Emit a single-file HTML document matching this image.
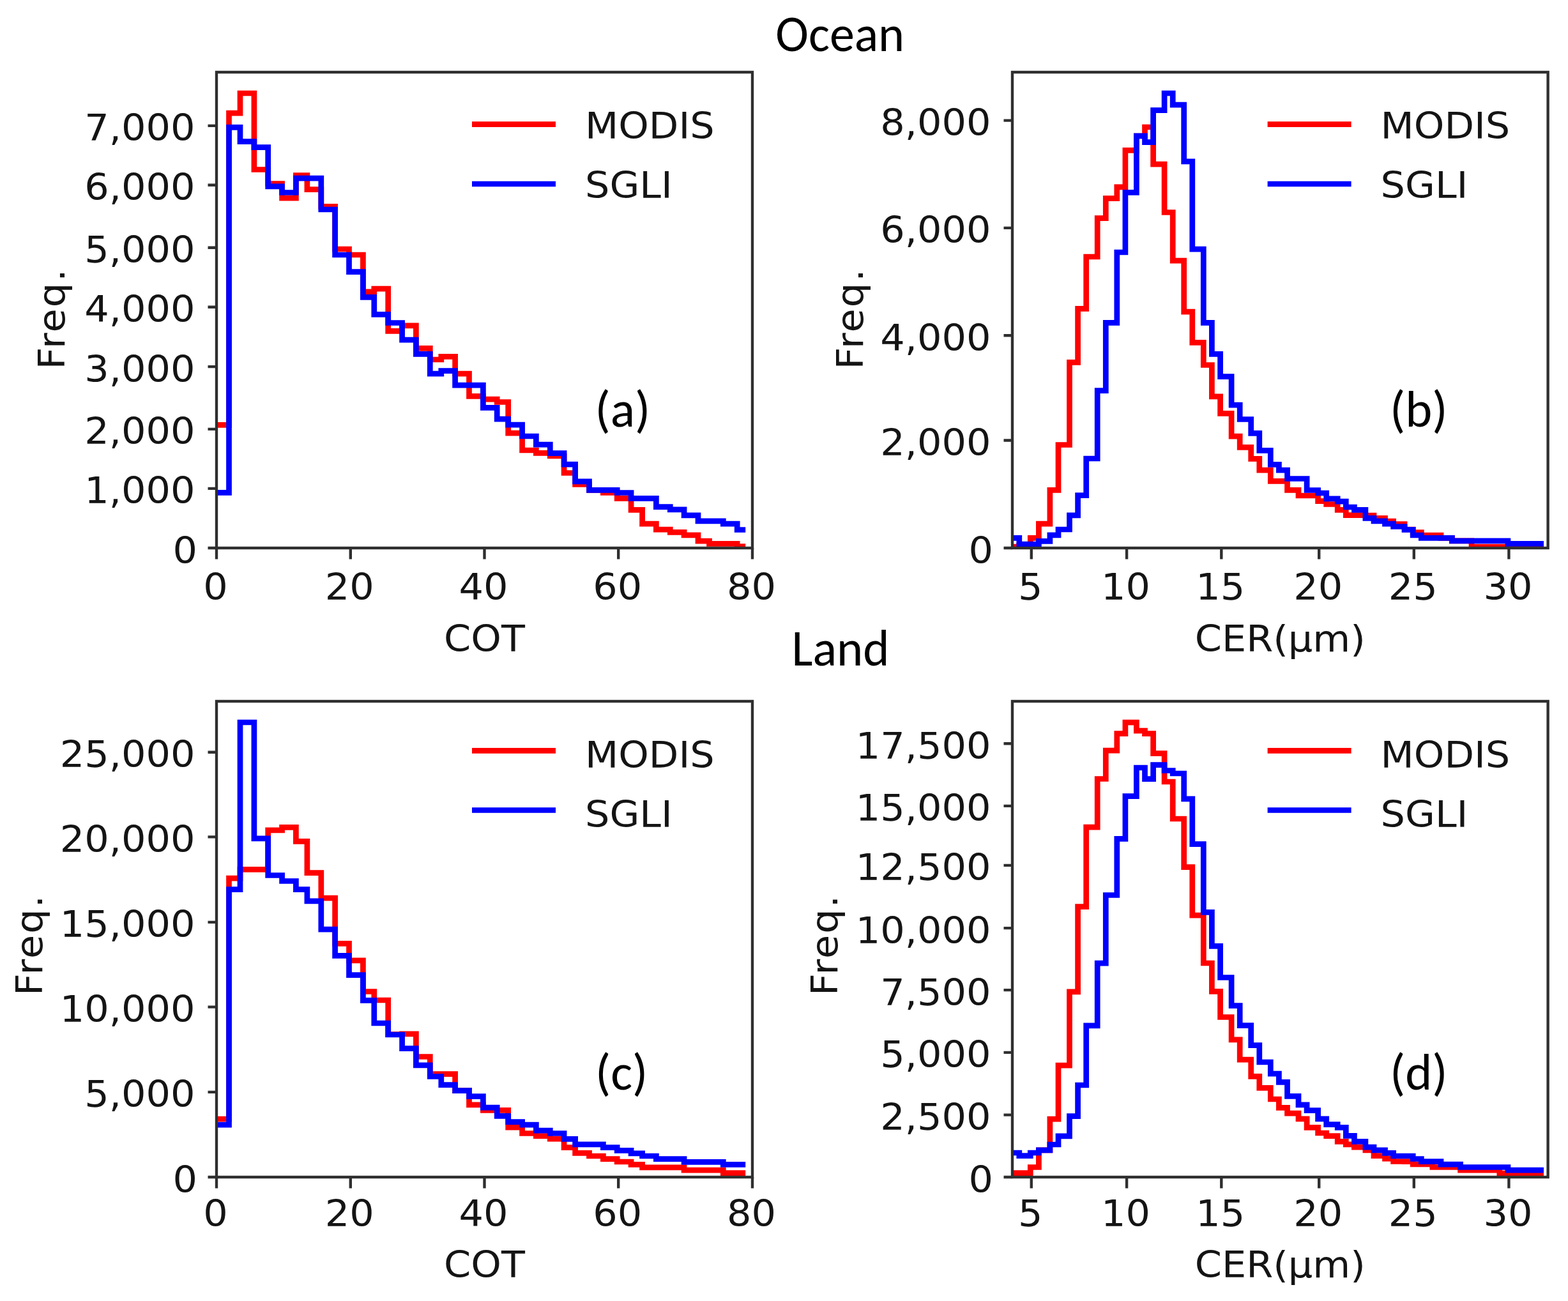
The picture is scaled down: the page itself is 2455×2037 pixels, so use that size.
<!DOCTYPE html>
<html><head><meta charset="utf-8"><title>Ocean / Land COT and CER histograms</title>
<style>html,body{margin:0;padding:0;background:#fff;}svg{display:block;}</style></head>
<body>
<svg width="2455" height="2037" viewBox="0 0 2455 2037">
<rect width="2455" height="2037" fill="#fff"/>
<clipPath id="ca"><rect x="339.0" y="113.0" width="839.0" height="745.0"/></clipPath>
<g clip-path="url(#ca)" fill="none" stroke-width="8.74" stroke-linejoin="miter" stroke-linecap="butt">
<path stroke="#ff0000" d="M339.0,665.3H358.5V177.2H376.0V146.0H397.9V265.5H419.7V287.7H441.6V310.1H463.4V274.6H480.9V296.7H502.8V323.4H524.6V390.0H546.5V399.0H568.4V456.8H585.8V452.1H607.7V518.4H629.6V509.8H651.4V545.3H673.3V563.0H690.8V558.4H712.6V585.2H734.5V620.4H756.4V625.2H778.2V629.5H795.7V678.1H817.6V705.0H839.4V709.3H861.3V714.0H883.1V740.5H900.6V758.3H922.5V767.3H944.4V771.4H966.2V780.3H988.1V798.4H1005.6V820.1H1027.4V829.1H1049.3V833.3H1071.1V837.9H1093.0V847.2H1110.5V851.4H1132.3V851.4H1154.2V855.6H1167.2"/>
<path stroke="#0000ff" d="M339.0,771.4H358.5V199.4H376.0V221.6H397.9V230.7H419.7V291.9H441.6V301.5H463.4V279.1H480.9V279.1H502.8V328.0H524.6V399.0H546.5V425.6H568.4V465.4H585.8V492.4H607.7V505.5H629.6V532.2H651.4V554.4H673.3V585.2H690.8V580.7H712.6V603.1H734.5V603.1H756.4V638.4H778.2V656.1H795.7V665.2H817.6V683.0H839.4V696.2H861.3V709.6H883.1V727.2H900.6V753.9H922.5V767.3H944.4V767.3H966.2V771.5H988.1V780.3H1005.6V780.3H1027.4V793.6H1049.3V797.8H1071.1V806.8H1093.0V815.9H1110.5V815.9H1132.3V820.1H1154.2V829.5H1167.2"/>
</g>
<rect x="339.0" y="113.0" width="839.0" height="745.0" fill="none" stroke="#2f2f2f" stroke-width="4.4"/>
<path d="M339.0,858.0v17.5M548.8,858.0v17.5M758.5,858.0v17.5M968.2,858.0v17.5M1178.0,858.0v17.5M339.0,858.0h-13.5M339.0,764.9h-13.5M339.0,671.9h-13.5M339.0,574.1h-13.5M339.0,480.7h-13.5M339.0,387.7h-13.5M339.0,289.7h-13.5M339.0,196.9h-13.5" stroke="#2f2f2f" stroke-width="4.4" fill="none"/>
<g font-family="'DejaVu Sans', 'Liberation Sans', sans-serif" font-size="60.5" fill="#141414">
<text transform="translate(337.5,938.5) scale(1,0.95)" text-anchor="middle">0</text>
<text transform="translate(547.2,938.5) scale(1,0.95)" text-anchor="middle">20</text>
<text transform="translate(757.0,938.5) scale(1,0.95)" text-anchor="middle">40</text>
<text transform="translate(966.8,938.5) scale(1,0.95)" text-anchor="middle">60</text>
<text transform="translate(1176.5,938.5) scale(1,0.95)" text-anchor="middle">80</text>
<text transform="translate(309.0,881.5) scale(1,0.95)" text-anchor="end">0</text>
<text transform="translate(305.5,788.4) scale(1,0.95)" text-anchor="end">1,000</text>
<text transform="translate(305.5,695.4) scale(1,0.95)" text-anchor="end">2,000</text>
<text transform="translate(305.5,597.6) scale(1,0.95)" text-anchor="end">3,000</text>
<text transform="translate(305.5,504.2) scale(1,0.95)" text-anchor="end">4,000</text>
<text transform="translate(305.5,411.2) scale(1,0.95)" text-anchor="end">5,000</text>
<text transform="translate(305.5,313.2) scale(1,0.95)" text-anchor="end">6,000</text>
<text transform="translate(305.5,220.4) scale(1,0.95)" text-anchor="end">7,000</text>
<text transform="translate(758.5,1019.5) scale(1,0.95)" text-anchor="middle">COT</text>
<text transform="translate(100.9,499.0) rotate(-90) scale(1,0.95)" text-anchor="middle" letter-spacing="2">Freq.</text>
</g>
<path d="M739.0,194.7H870.0" stroke="#ff0000" stroke-width="8.74"/>
<path d="M739.0,288.0H870.0" stroke="#0000ff" stroke-width="8.74"/>
<g font-family="'DejaVu Sans', 'Liberation Sans', sans-serif" font-size="60.5" fill="#141414">
<text transform="translate(916.0,216.6) scale(1,0.95)" text-anchor="start">MODIS</text>
<text transform="translate(916.0,310.0) scale(1,0.95)" text-anchor="start">SGLI</text>
</g>
<text x="931.5" y="667.8" font-family="Carlito, 'Liberation Sans', sans-serif" font-size="80" style="font-size-adjust:0.4775" textLength="86.84" lengthAdjust="spacingAndGlyphs">(a)</text>
<clipPath id="cb"><rect x="1585.0" y="113.0" width="838.5999999999999" height="745.0"/></clipPath>
<g clip-path="url(#cb)" fill="none" stroke-width="8.74" stroke-linejoin="miter" stroke-linecap="butt">
<path stroke="#ff0000" d="M1585.0,856.0H1595.8V854.0H1613.3V842.4H1626.4V820.1H1643.9V767.3H1657.0V696.5H1674.5V567.4H1687.6V483.3H1700.7V402.0H1718.2V341.6H1731.3V310.6H1748.8V292.8H1761.9V235.4H1779.4V213.0H1792.5V199.0H1805.6V257.1H1823.1V332.5H1836.2V408.1H1853.7V488.1H1866.8V536.4H1884.3V571.5H1897.4V620.9H1910.6V647.4H1928.1V683.2H1941.2V700.4H1958.7V718.4H1971.8V736.2H1989.3V753.4H2002.4V753.4H2015.5V767.3H2033.0V776.0H2046.1V776.0H2063.6V784.6H2076.7V789.5H2094.2V798.3H2107.3V806.7H2120.4V806.7H2137.9V807.0H2151.0V811.4H2168.5V816.0H2181.6V820.7H2199.1V829.0H2212.2V833.5H2225.3V838.0H2242.8V838.0H2256.0V842.3H2273.4V846.8H2286.6V846.8H2304.0V856.0H2317.2V856.0H2334.6V856.0H2347.8V856.0H2360.9V856.0H2378.4V856.0H2391.5V856.0H2409.0V856.0H2417.0"/>
<path stroke="#0000ff" d="M1585.0,842.4H1595.8V852.2H1613.3V852.2H1626.4V847.4H1643.9V837.9H1657.0V829.0H1674.5V806.8H1687.6V775.7H1700.7V718.0H1718.2V611.6H1731.3V505.4H1748.8V395.0H1761.9V301.3H1779.4V212.9H1792.5V222.6H1805.6V172.6H1823.1V146.0H1836.2V164.1H1853.7V252.8H1866.8V390.2H1884.3V505.4H1897.4V554.3H1910.6V589.6H1928.1V634.1H1941.2V656.5H1958.7V678.4H1971.8V705.3H1989.3V727.3H2002.4V736.2H2015.5V749.5H2033.0V749.5H2046.1V767.5H2063.6V772.0H2076.7V780.9H2094.2V785.2H2107.3V794.0H2120.4V798.3H2137.9V811.4H2151.0V815.8H2168.5V820.1H2181.6V824.5H2199.1V829.3H2212.2V838.0H2225.3V842.3H2242.8V842.3H2256.0V842.3H2273.4V846.8H2286.6V846.8H2304.0V846.8H2317.2V846.8H2334.6V846.8H2347.8V846.8H2360.9V851.4H2378.4V851.4H2391.5V851.4H2409.0V851.4H2417.0"/>
</g>
<rect x="1585.0" y="113.0" width="838.5999999999999" height="745.0" fill="none" stroke="#2f2f2f" stroke-width="4.4"/>
<path d="M1614.8,858.0v17.5M1764.1,858.0v17.5M1912.3,858.0v17.5M2065.2,858.0v17.5M2213.8,858.0v17.5M2362.4,858.0v17.5M1585.0,858.0h-13.5M1585.0,689.5h-13.5M1585.0,525.3h-13.5M1585.0,356.9h-13.5M1585.0,188.6h-13.5" stroke="#2f2f2f" stroke-width="4.4" fill="none"/>
<g font-family="'DejaVu Sans', 'Liberation Sans', sans-serif" font-size="60.5" fill="#141414">
<text transform="translate(1613.3,938.5) scale(1,0.95)" text-anchor="middle">5</text>
<text transform="translate(1762.6,938.5) scale(1,0.95)" text-anchor="middle">10</text>
<text transform="translate(1910.8,938.5) scale(1,0.95)" text-anchor="middle">15</text>
<text transform="translate(2063.7,938.5) scale(1,0.95)" text-anchor="middle">20</text>
<text transform="translate(2212.3,938.5) scale(1,0.95)" text-anchor="middle">25</text>
<text transform="translate(2360.9,938.5) scale(1,0.95)" text-anchor="middle">30</text>
<text transform="translate(1555.0,881.5) scale(1,0.95)" text-anchor="end">0</text>
<text transform="translate(1551.5,713.0) scale(1,0.95)" text-anchor="end">2,000</text>
<text transform="translate(1551.5,548.8) scale(1,0.95)" text-anchor="end">4,000</text>
<text transform="translate(1551.5,380.4) scale(1,0.95)" text-anchor="end">6,000</text>
<text transform="translate(1551.5,212.1) scale(1,0.95)" text-anchor="end">8,000</text>
<text transform="translate(2004.3,1019.5) scale(1,0.95)" text-anchor="middle">CER(µm)</text>
<text transform="translate(1350.9,499.0) rotate(-90) scale(1,0.95)" text-anchor="middle" letter-spacing="2">Freq.</text>
</g>
<path d="M1984.6,194.7H2115.6" stroke="#ff0000" stroke-width="8.74"/>
<path d="M1984.6,288.0H2115.6" stroke="#0000ff" stroke-width="8.74"/>
<g font-family="'DejaVu Sans', 'Liberation Sans', sans-serif" font-size="60.5" fill="#141414">
<text transform="translate(2161.6,216.6) scale(1,0.95)" text-anchor="start">MODIS</text>
<text transform="translate(2161.6,310.0) scale(1,0.95)" text-anchor="start">SGLI</text>
</g>
<text x="2176.0" y="667.6" font-family="Carlito, 'Liberation Sans', sans-serif" font-size="80" style="font-size-adjust:0.4775" textLength="90.55" lengthAdjust="spacingAndGlyphs">(b)</text>
<clipPath id="cc"><rect x="339.0" y="1098.0" width="839.0" height="745.0"/></clipPath>
<g clip-path="url(#cc)" fill="none" stroke-width="8.74" stroke-linejoin="miter" stroke-linecap="butt">
<path stroke="#ff0000" d="M339.0,1752.2H358.5V1375.2H376.0V1361.4H397.9V1361.4H419.7V1299.8H441.6V1295.3H463.4V1317.3H480.9V1366.6H502.8V1406.2H524.6V1477.4H546.5V1503.8H568.4V1552.5H585.8V1566.0H607.7V1619.6H629.6V1618.9H651.4V1654.5H673.3V1681.6H690.8V1681.6H712.6V1707.7H734.5V1729.8H756.4V1738.4H778.2V1738.4H795.7V1765.2H817.6V1774.5H839.4V1778.7H861.3V1783.2H883.1V1796.6H900.6V1805.3H922.5V1810.0H944.4V1814.7H966.2V1819.0H988.1V1823.4H1005.6V1827.9H1027.4V1827.9H1049.3V1827.9H1071.1V1832.2H1093.0V1832.2H1110.5V1832.2H1132.3V1836.7H1154.2V1836.7H1167.2"/>
<path stroke="#0000ff" d="M339.0,1761.2H358.5V1392.7H376.0V1131.0H397.9V1312.8H419.7V1370.5H441.6V1379.5H463.4V1392.7H480.9V1410.8H502.8V1455.1H524.6V1496.4H546.5V1526.7H568.4V1566.3H585.8V1602.0H607.7V1620.0H629.6V1641.6H651.4V1667.8H673.3V1685.5H690.8V1698.6H712.6V1707.7H734.5V1716.7H756.4V1734.2H778.2V1747.3H795.7V1756.6H817.6V1761.1H839.4V1770.1H861.3V1774.5H883.1V1783.3H900.6V1791.9H922.5V1791.9H944.4V1796.6H966.2V1801.4H988.1V1805.8H1005.6V1810.0H1027.4V1814.7H1049.3V1814.7H1071.1V1819.4H1093.0V1819.4H1110.5V1819.4H1132.3V1823.4H1154.2V1823.4H1167.2"/>
</g>
<rect x="339.0" y="1098.0" width="839.0" height="745.0" fill="none" stroke="#2f2f2f" stroke-width="4.4"/>
<path d="M339.0,1843.0v17.5M548.8,1843.0v17.5M758.5,1843.0v17.5M968.2,1843.0v17.5M1178.0,1843.0v17.5M339.0,1843.0h-13.5M339.0,1709.9h-13.5M339.0,1576.6h-13.5M339.0,1443.9h-13.5M339.0,1310.4h-13.5M339.0,1177.8h-13.5" stroke="#2f2f2f" stroke-width="4.4" fill="none"/>
<g font-family="'DejaVu Sans', 'Liberation Sans', sans-serif" font-size="60.5" fill="#141414">
<text transform="translate(337.5,1920.0) scale(1,0.95)" text-anchor="middle">0</text>
<text transform="translate(547.2,1920.0) scale(1,0.95)" text-anchor="middle">20</text>
<text transform="translate(757.0,1920.0) scale(1,0.95)" text-anchor="middle">40</text>
<text transform="translate(966.8,1920.0) scale(1,0.95)" text-anchor="middle">60</text>
<text transform="translate(1176.5,1920.0) scale(1,0.95)" text-anchor="middle">80</text>
<text transform="translate(309.0,1866.5) scale(1,0.95)" text-anchor="end">0</text>
<text transform="translate(305.5,1733.4) scale(1,0.95)" text-anchor="end">5,000</text>
<text transform="translate(305.5,1600.1) scale(1,0.95)" text-anchor="end">10,000</text>
<text transform="translate(305.5,1467.4) scale(1,0.95)" text-anchor="end">15,000</text>
<text transform="translate(305.5,1333.9) scale(1,0.95)" text-anchor="end">20,000</text>
<text transform="translate(305.5,1201.3) scale(1,0.95)" text-anchor="end">25,000</text>
<text transform="translate(758.5,1999.5) scale(1,0.95)" text-anchor="middle">COT</text>
<text transform="translate(65.8,1479.5) rotate(-90) scale(1,0.95)" text-anchor="middle" letter-spacing="2">Freq.</text>
</g>
<path d="M739.0,1175.3H870.0" stroke="#ff0000" stroke-width="8.74"/>
<path d="M739.0,1268.5H870.0" stroke="#0000ff" stroke-width="8.74"/>
<g font-family="'DejaVu Sans', 'Liberation Sans', sans-serif" font-size="60.5" fill="#141414">
<text transform="translate(916.0,1201.6) scale(1,0.95)" text-anchor="start">MODIS</text>
<text transform="translate(916.0,1295.0) scale(1,0.95)" text-anchor="start">SGLI</text>
</g>
<text x="932.0" y="1706.0" font-family="Carlito, 'Liberation Sans', sans-serif" font-size="80" style="font-size-adjust:0.4775" textLength="82.34" lengthAdjust="spacingAndGlyphs">(c)</text>
<clipPath id="cd"><rect x="1585.0" y="1098.0" width="838.5999999999999" height="745.0"/></clipPath>
<g clip-path="url(#cd)" fill="none" stroke-width="8.74" stroke-linejoin="miter" stroke-linecap="butt">
<path stroke="#ff0000" d="M1585.0,1836.6H1595.8V1836.6H1613.3V1827.5H1626.4V1800.8H1643.9V1752.1H1657.0V1668.2H1674.5V1552.9H1687.6V1419.7H1700.7V1295.1H1718.2V1219.5H1731.3V1175.2H1748.8V1148.6H1761.9V1131.1H1779.4V1144.2H1792.5V1148.6H1805.6V1179.7H1823.1V1224.0H1836.2V1282.0H1853.7V1357.6H1866.8V1433.2H1884.3V1508.0H1897.4V1552.4H1910.6V1592.5H1928.1V1627.9H1941.2V1659.1H1958.7V1685.4H1971.8V1703.3H1989.3V1721.0H2002.4V1734.3H2015.5V1743.2H2033.0V1751.9H2046.1V1765.4H2063.6V1774.0H2076.7V1778.6H2094.2V1787.3H2107.3V1791.9H2120.4V1796.2H2137.9V1800.8H2151.0V1809.6H2168.5V1814.1H2181.6V1818.5H2199.1V1818.6H2212.2V1823.0H2225.3V1823.0H2242.8V1827.5H2256.0V1827.5H2273.4V1827.5H2286.6V1832.2H2304.0V1832.2H2317.2V1832.2H2334.6V1832.2H2347.8V1837.0H2360.9V1837.0H2378.4V1837.0H2391.5V1837.0H2409.0V1837.0H2417.0"/>
<path stroke="#0000ff" d="M1585.0,1805.0H1595.8V1809.7H1613.3V1805.0H1626.4V1800.8H1643.9V1792.0H1657.0V1778.9H1674.5V1747.6H1687.6V1699.0H1700.7V1605.8H1718.2V1508.2H1731.3V1401.5H1748.8V1313.3H1761.9V1246.6H1779.4V1202.0H1792.5V1219.6H1805.6V1197.6H1823.1V1206.5H1836.2V1211.0H1853.7V1250.8H1866.8V1321.7H1884.3V1428.4H1897.4V1481.4H1910.6V1530.5H1928.1V1574.6H1941.2V1605.6H1958.7V1636.6H1971.8V1663.0H1989.3V1681.1H2002.4V1694.4H2015.5V1716.4H2033.0V1729.8H2046.1V1738.6H2063.6V1751.9H2076.7V1760.7H2094.2V1765.4H2107.3V1778.4H2120.4V1787.3H2137.9V1796.2H2151.0V1800.8H2168.5V1805.3H2181.6V1810.0H2199.1V1810.0H2212.2V1814.5H2225.3V1818.7H2242.8V1818.7H2256.0V1823.2H2273.4V1823.2H2286.6V1827.5H2304.0V1827.5H2317.2V1827.5H2334.6V1827.5H2347.8V1827.5H2360.9V1832.1H2378.4V1832.1H2391.5V1832.1H2409.0V1832.1H2417.0"/>
</g>
<rect x="1585.0" y="1098.0" width="838.5999999999999" height="745.0" fill="none" stroke="#2f2f2f" stroke-width="4.4"/>
<path d="M1614.8,1843.0v17.5M1764.1,1843.0v17.5M1912.3,1843.0v17.5M2065.2,1843.0v17.5M2213.8,1843.0v17.5M2362.4,1843.0v17.5M1585.0,1843.0h-13.5M1585.0,1745.6h-13.5M1585.0,1647.9h-13.5M1585.0,1550.1h-13.5M1585.0,1453.1h-13.5M1585.0,1354.9h-13.5M1585.0,1261.9h-13.5M1585.0,1164.3h-13.5" stroke="#2f2f2f" stroke-width="4.4" fill="none"/>
<g font-family="'DejaVu Sans', 'Liberation Sans', sans-serif" font-size="60.5" fill="#141414">
<text transform="translate(1613.3,1920.0) scale(1,0.95)" text-anchor="middle">5</text>
<text transform="translate(1762.6,1920.0) scale(1,0.95)" text-anchor="middle">10</text>
<text transform="translate(1910.8,1920.0) scale(1,0.95)" text-anchor="middle">15</text>
<text transform="translate(2063.7,1920.0) scale(1,0.95)" text-anchor="middle">20</text>
<text transform="translate(2212.3,1920.0) scale(1,0.95)" text-anchor="middle">25</text>
<text transform="translate(2360.9,1920.0) scale(1,0.95)" text-anchor="middle">30</text>
<text transform="translate(1555.0,1866.5) scale(1,0.95)" text-anchor="end">0</text>
<text transform="translate(1551.5,1769.1) scale(1,0.95)" text-anchor="end">2,500</text>
<text transform="translate(1551.5,1671.4) scale(1,0.95)" text-anchor="end">5,000</text>
<text transform="translate(1551.5,1573.6) scale(1,0.95)" text-anchor="end">7,500</text>
<text transform="translate(1551.5,1476.6) scale(1,0.95)" text-anchor="end">10,000</text>
<text transform="translate(1551.5,1378.4) scale(1,0.95)" text-anchor="end">12,500</text>
<text transform="translate(1551.5,1285.4) scale(1,0.95)" text-anchor="end">15,000</text>
<text transform="translate(1551.5,1187.8) scale(1,0.95)" text-anchor="end">17,500</text>
<text transform="translate(2004.3,1999.5) scale(1,0.95)" text-anchor="middle">CER(µm)</text>
<text transform="translate(1310.9,1479.5) rotate(-90) scale(1,0.95)" text-anchor="middle" letter-spacing="2">Freq.</text>
</g>
<path d="M1984.6,1175.3H2115.6" stroke="#ff0000" stroke-width="8.74"/>
<path d="M1984.6,1268.5H2115.6" stroke="#0000ff" stroke-width="8.74"/>
<g font-family="'DejaVu Sans', 'Liberation Sans', sans-serif" font-size="60.5" fill="#141414">
<text transform="translate(2161.6,1201.6) scale(1,0.95)" text-anchor="start">MODIS</text>
<text transform="translate(2161.6,1295.0) scale(1,0.95)" text-anchor="start">SGLI</text>
</g>
<text x="2176.0" y="1706.0" font-family="Carlito, 'Liberation Sans', sans-serif" font-size="80" style="font-size-adjust:0.4775" textLength="90.55" lengthAdjust="spacingAndGlyphs">(d)</text>
<text x="1214.3" y="80" font-family="Carlito, 'Liberation Sans', sans-serif" font-size="80" style="font-size-adjust:0.4775" textLength="201.8" lengthAdjust="spacingAndGlyphs">Ocean</text>
<text x="1239.5" y="1041.7" font-family="Carlito, 'Liberation Sans', sans-serif" font-size="80" style="font-size-adjust:0.4775" textLength="153.0" lengthAdjust="spacingAndGlyphs">Land</text>
</svg>
</body></html>
